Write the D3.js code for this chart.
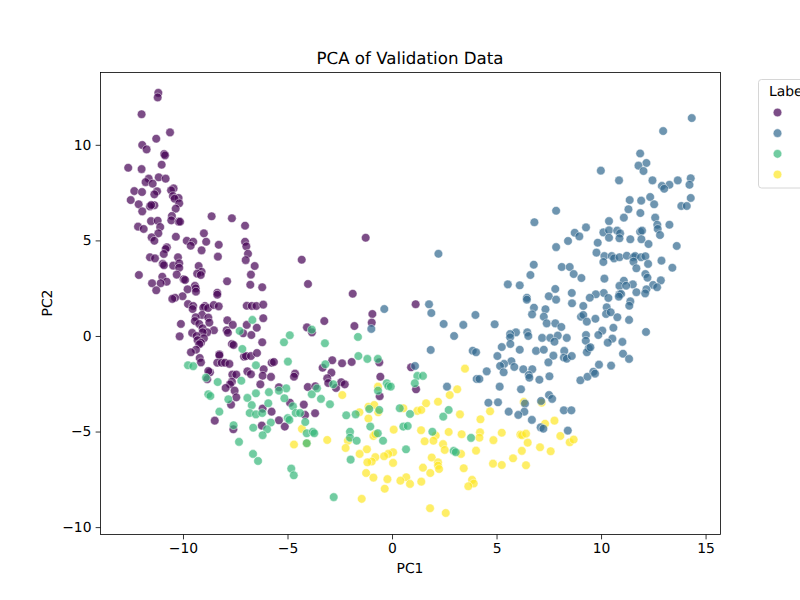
<!DOCTYPE html>
<html>
<head>
<meta charset="utf-8">
<script src="https://cdn.jsdelivr.net/npm/d3@7"></script>
<style>
    html, body { margin: 0; padding: 0; background: #fff; overflow: hidden; }
    text { font-family: "DejaVu Sans", sans-serif; fill: #000; text-rendering: geometricPrecision; }
</style>
</head>
<body>
<svg id="chart" width="800" height="600"></svg>
<script>
// values, [PC1, PC2]
const label0 = [
[-11.18,12.72],[-11.21,12.48],[-11.98,11.60],[-10.62,10.65],[-11.28,10.32],[-11.95,9.99],[-11.74,9.76],[-10.90,9.52],[-10.86,9.45],[-11.02,8.96],
[-12.62,8.80],[-11.98,8.73],[-11.64,8.23],[-11.79,8.05],[-11.45,7.97],[-11.16,8.30],[-10.83,8.23],[-10.45,7.72],[-10.57,7.62],[-12.33,7.58],
[-11.96,7.53],[-11.24,7.57],[-11.37,7.41],[-10.48,7.32],[-10.21,7.22],[-10.40,7.18],[-12.50,7.11],[-10.18,6.94],[-12.12,6.89],[-11.37,6.84],
[-11.58,6.78],[-11.52,6.85],[-10.35,6.66],[-11.95,6.52],[-8.63,6.26],[-7.66,6.16],[-7.03,5.77],[-10.53,6.28],[-10.56,6.05],[-10.21,5.98],
[-10.14,5.98],[-11.53,6.01],[-11.21,6.03],[-12.15,5.72],[-11.88,5.60],[-11.09,5.70],[-11.18,5.37],[-11.50,5.16],[-11.37,4.98],[-10.34,5.19],
[-9.00,5.37],[-9.82,4.98],[-9.51,4.93],[-9.63,4.72],[-8.89,4.93],[-8.29,4.77],[-7.03,4.93],[-6.97,4.69],[-10.77,4.64],[-10.83,4.55],
[-9.11,4.48],[-6.89,4.30],[-10.92,4.29],[-8.33,4.15],[-11.58,4.12],[-11.34,4.06],[-10.24,4.12],[-7.00,3.97],[-4.32,3.99],[-10.97,3.77],
[-10.91,3.70],[-10.47,3.68],[-10.18,3.80],[-10.18,3.57],[-6.57,3.66],[-9.25,3.66],[-9.11,3.36],[-9.32,3.26],[-9.15,3.19],[-10.30,3.21],
[-6.75,3.21],[-12.11,3.19],[-10.99,3.10],[-9.97,2.97],[-9.90,2.93],[-10.78,2.84],[-11.07,2.76],[-11.48,2.76],[-7.89,2.86],[-6.78,2.68],
[-6.21,2.55],[-9.43,2.62],[-9.78,2.44],[-9.39,2.49],[-9.38,2.32],[-11.28,2.39],[-8.36,2.26],[-8.36,2.16],[-10.02,2.08],[-10.38,2.00],
[-10.51,1.94],[-9.76,1.67],[-9.51,1.57],[-9.54,1.41],[-8.95,1.57],[-9.03,1.48],[-8.80,1.46],[-8.53,1.62],[-8.29,1.55],[-6.95,1.58],
[-6.71,1.57],[-6.49,1.57],[-6.16,1.64],[-9.09,1.10],[-9.39,0.98],[-8.79,0.96],[-9.43,0.78],[-7.88,0.82],[-6.16,0.93],[-7.62,0.58],
[-8.74,0.70],[-9.22,0.63],[-10.10,0.63],[-6.95,0.58],[-9.06,0.40],[-6.47,0.43],[-8.52,0.30],[-8.84,0.19],[-9.56,0.16],[-9.06,0.19],
[-7.91,0.30],[-7.85,0.17],[-7.12,0.14],[-6.73,0.05],[-10.16,-0.02],[-9.35,0.00],[-9.00,-0.12],[-9.30,-0.22],[-9.14,-0.35],[-9.22,-0.43],
[-7.66,-0.42],[-7.58,-0.47],[-6.21,-0.33],[-9.38,-0.72],[-9.62,-0.85],[-8.26,-0.96],[-9.20,-1.15],[-9.14,-1.38],[-8.26,-1.01],[-7.08,-1.08],
[-6.99,-1.05],[-6.75,-1.05],[-6.46,-0.89],[-8.36,-1.40],[-8.15,-1.40],[-7.99,-1.40],[-7.78,-1.46],[-5.76,-1.40],[-5.65,-1.36],[-6.14,-1.74],
[-6.92,-1.85],[-6.75,-2.00],[-6.19,-2.08],[-5.79,-2.14],[-8.71,-1.90],[-8.79,-1.83],[-8.84,-2.26],[-7.64,-2.02],[-7.45,-2.02],[-7.66,-2.39],
[-7.75,-2.53],[-7.96,-2.72],[-7.53,-2.86],[-7.45,-3.21],[-7.70,-3.59],[-6.30,-2.53],[-5.41,-2.68],[-4.64,-1.97],[-4.69,-2.13],[-2.86,-1.27],
[-3.32,-1.66],[-2.90,-1.92],[-3.10,-2.21],[-3.05,-2.46],[-4.03,-2.67],[-3.67,-2.63],[-2.68,-2.72],[-4.88,-3.49],[-4.22,-3.59],[-6.19,-3.80],
[-5.76,-3.96],[-3.68,-4.04],[-4.16,-4.13],[-5.41,-4.41],[-5.13,-4.74],[-6.23,-4.69],[-7.59,-4.88],[-8.48,-4.43],[-1.26,5.14],[-4.02,2.72],
[-1.88,2.21],[1.13,1.66],[-0.94,1.15],[-0.97,0.70],[-1.80,0.52],[-3.24,0.78],[-4.07,0.45],[-3.83,0.19],[-2.39,-1.43],[-1.93,-1.36],
[-0.61,-1.38],[0.91,-1.64],[-2.43,-2.42],[-2.26,-2.53],[-0.56,-2.13],[-0.59,-3.15],[1.15,-2.79]
];
const label1 = [
[2.22,4.30],[-0.37,1.41],[-0.99,0.37],[1.77,1.66],[1.88,1.20],[2.47,0.63],[3.41,0.58],[2.97,0.00],[1.85,-0.73],[1.10,-1.57],
[2.63,-2.65],[3.99,1.10],[4.91,0.61],[6.79,1.48],[7.34,1.40],[6.70,1.13],[7.26,1.01],[8.61,1.71],[7.40,0.66],[7.81,0.66],
[8.10,0.47],[9.04,1.01],[9.15,1.57],[9.15,1.10],[9.32,0.75],[5.93,0.19],[5.65,0.10],[5.65,-0.07],[6.47,0.19],[6.52,0.00],
[5.66,-0.42],[7.18,-0.10],[7.57,-0.10],[7.93,0.02],[7.77,-0.30],[8.36,-0.10],[9.28,0.05],[9.27,-0.25],[5.25,-0.58],[6.11,-0.72],
[6.89,-0.78],[7.26,-0.72],[8.24,-0.78],[9.41,-0.64],[9.32,-0.85],[3.86,-0.77],[4.02,-0.85],[5.04,-1.05],[7.72,-1.03],[8.22,-1.13],
[8.36,-1.19],[8.60,-1.05],[7.48,-1.38],[5.71,-1.32],[5.36,-1.46],[5.17,-1.57],[5.85,-1.62],[4.53,-1.85],[5.34,-1.90],[6.28,-1.74],
[6.71,-1.74],[6.54,-2.04],[6.57,-2.18],[7.05,-2.29],[7.53,-2.11],[4.05,-2.25],[4.18,-2.25],[9.01,-2.32],[9.35,-2.13],[5.15,-2.65],
[6.17,-2.79],[7.51,-3.09],[7.66,-3.29],[4.61,-3.49],[5.07,-3.47],[6.36,-3.54],[7.13,-3.40],[5.58,-3.96],[6.33,-3.96],[6.04,-4.13],
[8.22,-3.89],[8.58,-3.89],[6.69,-4.39],[7.11,-4.78],[7.24,-4.85],[8.41,-4.95],[7.85,6.55],[6.81,5.95],[9.28,5.68],[8.74,5.40],
[8.96,5.21],[8.42,4.97],[7.85,4.65],[10.11,5.42],[10.38,6.01],[10.38,5.53],[10.38,5.14],[9.84,4.88],[9.78,4.36],[10.16,4.18],
[10.11,3.87],[10.51,4.18],[6.78,3.73],[8.12,3.61],[8.50,3.61],[6.62,3.19],[8.69,3.24],[9.06,3.03],[10.16,3.00],[5.54,2.70],
[6.11,2.65],[7.81,2.46],[8.60,2.25],[10.13,2.25],[9.75,2.18],[9.46,2.00],[7.50,2.08],[7.85,1.90],[6.45,2.00],[6.45,1.90],
[10.35,1.99],[10.27,1.50],[14.34,11.40],[12.97,10.72],[11.87,9.55],[12.17,9.05],[11.79,8.91],[12.03,8.63],[9.99,8.65],[10.86,8.14],
[12.46,8.14],[14.29,8.25],[14.23,7.91],[13.67,8.14],[13.27,7.91],[12.91,7.85],[13.02,7.70],[14.29,7.22],[12.35,7.27],[11.37,7.11],
[11.92,7.08],[12.54,6.89],[13.84,6.80],[14.10,6.80],[11.31,6.63],[11.88,6.43],[11.09,6.19],[12.59,6.19],[12.69,5.82],[13.27,5.82],
[10.77,5.51],[10.91,5.37],[11.87,5.45],[11.96,5.51],[12.71,5.60],[12.82,5.28],[10.88,5.11],[11.40,5.06],[11.93,5.06],[12.27,4.81],
[13.62,4.71],[10.62,4.06],[10.88,4.12],[11.23,4.20],[11.55,4.12],[11.63,4.18],[11.91,4.12],[12.12,4.17],[11.55,3.89],[12.25,3.77],
[12.89,3.94],[13.41,3.57],[11.69,3.54],[12.12,3.24],[12.22,3.05],[11.09,2.89],[12.86,2.91],[11.52,2.70],[10.88,2.62],[11.20,2.63],
[12.49,2.67],[12.68,2.55],[12.17,2.44],[12.11,2.23],[11.69,2.29],[10.88,2.18],[10.96,2.20],[10.85,2.06],[11.40,1.81],[11.35,1.58],
[10.24,1.15],[10.46,1.24],[10.78,0.98],[9.73,0.90],[11.34,0.84],[10.59,0.43],[12.15,0.21],[10.06,0.28],[9.87,0.05],[10.54,-0.14],
[10.32,-0.35],[11.02,-0.31],[9.49,-0.59],[11.05,-0.93],[11.34,-1.20],[9.90,-1.50],[10.48,-1.55],[9.63,-1.87],[9.71,-1.97]
];
const label2 = [
[-6.68,0.84],[-7.29,0.26],[-4.89,0.04],[-5.17,-0.33],[-7.16,-0.68],[-9.76,-1.53],[-9.51,-1.58],[-8.34,-2.41],[-7.21,-2.34],[-6.51,-1.53],
[-4.98,-1.34],[-3.19,-1.48],[-8.90,-2.18],[-8.79,-3.05],[-8.69,-3.14],[-6.51,-3.00],[-6.92,-3.24],[-5.89,-2.94],[-5.06,-2.74],[-5.41,-2.86],
[-5.15,-3.26],[-3.84,-3.05],[-3.59,-2.74],[-3.40,-3.29],[-2.97,-3.57],[-2.81,-2.53],[-7.83,-3.31],[-6.71,-3.62],[-5.92,-3.52],[-4.74,-3.68],
[-8.26,-3.96],[-6.81,-4.03],[-6.51,-4.10],[-6.21,-4.03],[-5.80,-4.53],[-4.61,-4.03],[-4.40,-4.03],[-4.99,-4.30],[-4.91,-4.39],[-4.15,-4.50],
[-7.58,-4.67],[-6.64,-4.80],[-5.98,-4.88],[-6.19,-5.19],[-7.32,-5.54],[-4.08,-5.09],[-3.79,-5.01],[-3.72,-5.09],[-6.65,-6.17],[-6.41,-6.54],
[-4.82,-6.94],[-4.70,-7.29],[-4.08,-5.61],[-3.84,0.33],[-1.63,-0.05],[-3.21,-0.38],[-1.61,-1.05],[-1.18,-1.20],[-0.68,-1.20],[1.21,-2.09],
[1.48,-2.09],[1.09,-2.47],[-0.25,-2.47],[-0.18,-2.62],[-0.06,-2.65],[-0.67,-2.86],[-2.19,-4.15],[-1.74,-4.10],[-1.09,-3.82],[-0.61,-3.87],
[0.37,-3.78],[0.86,-4.08],[2.71,-3.87],[2.45,-4.22],[-1.04,-4.74],[-0.68,-5.09],[0.54,-4.74],[0.75,-4.71],[1.93,-5.01],[3.78,-5.33],
[-2.01,-5.01],[-2.01,-5.32],[-1.69,-5.48],[-0.43,-5.48],[0.67,-5.93],[2.95,-6.01],[3.05,-6.08],[-1.98,-6.47],[-2.79,-8.43]
];
const label3 = [
[-4.31,-4.86],[-4.69,-5.68],[-4.08,-5.61],[-3.10,-5.44],[-2.38,-3.09],[-0.67,-2.65],[3.49,-1.71],[3.12,-2.79],[2.76,-3.09],[-1.56,-3.99],
[-1.13,-3.70],[-0.85,-3.61],[-0.66,-3.99],[-1.13,-4.32],[0.54,-3.78],[1.63,-3.52],[2.20,-3.44],[1.21,-3.92],[1.40,-3.87],[3.25,-4.10],
[4.23,-4.36],[4.69,-3.94],[0.08,-4.90],[1.39,-4.93],[2.71,-5.02],[3.33,-5.14],[4.21,-5.04],[4.18,-5.32],[2.09,-5.21],[1.98,-5.48],
[1.56,-5.51],[-0.89,-5.23],[-0.80,-5.14],[-2.11,-5.48],[-2.22,-5.86],[-1.20,-5.93],[-1.55,-6.17],[2.44,-5.66],[2.52,-5.96],[3.30,-6.17],
[4.02,-6.00],[0.05,-6.08],[-0.18,-6.17],[-0.38,-6.29],[-0.80,-6.34],[1.90,-6.36],[-0.97,-6.57],[-1.18,-6.61],[0.05,-6.64],[2.20,-6.61],
[2.20,-6.78],[2.25,-6.96],[1.48,-6.89],[1.83,-7.17],[3.43,-6.92],[-1.24,-7.17],[-0.89,-7.41],[-0.22,-7.49],[0.68,-7.39],[0.40,-7.57],
[0.86,-7.74],[1.40,-7.62],[3.83,-7.53],[3.91,-7.72],[3.65,-7.86],[-0.35,-7.99],[-1.45,-8.52],[1.82,-9.01],[2.57,-9.26],[6.30,-3.45],
[7.16,-3.49],[7.32,-4.59],[7.77,-4.43],[5.25,-5.06],[4.85,-5.45],[6.14,-5.16],[6.22,-5.19],[6.41,-5.11],[6.49,-5.58],[8.05,-5.23],
[8.50,-5.56],[8.69,-5.42],[7.08,-5.82],[6.21,-6.01],[7.59,-6.03],[5.79,-6.40],[4.83,-6.68],[5.25,-6.75],[6.41,-6.76]
];
// overlaps in the reference look mixed, this order gets closest
const drawOrder = [[label0, 0], [label3, 3], [label2, 2], [label1, 1]];

const labels = [0, 1, 2, 3];
const labelColors = ['#440154', '#31688e', '#35b779', '#fde725'];
const xTicks = [-10, -5, 0, 5, 10, 15];
const yTicks = [-10, -5, 0, 5, 10];
const xDomain = [-13.97, 15.69];
const yDomain = [-10.36, 13.81];

const left = 100, right = 720, top_ = 72, bottom = 534;
const r = 4.3;
const fontSmall = '13.89px', fontTitle = '16.67px';

const svg = d3.select('#chart');
const x = d3.scaleLinear().domain(xDomain).range([left, right]);
const y = d3.scaleLinear().domain(yDomain).range([bottom, top_]);
const color = d3.scaleOrdinal().domain(labels).range(labelColors);

function styleMarker(sel, label) {
    sel.attr('fill', color(label))
        .attr('fill-opacity', 0.7)
        .attr('stroke', '#fff')
        .attr('stroke-opacity', 0.7)
        .attr('stroke-width', 0.67);
}

drawOrder.forEach(([points, label]) => {
    svg.append('g')
        .selectAll('circle')
        .data(points)
        .join('circle')
        .attr('cx', d => x(d[0]))
        .attr('cy', d => y(d[1]))
        .attr('r', r)
        .call(styleMarker, label);
});

// frame
svg.append('rect')
    .attr('x', left + 0.5)
    .attr('y', top_ + 0.5)
    .attr('width', right - left)
    .attr('height', bottom - top_)
    .attr('fill', 'none')
    .attr('stroke', '#000')
    .attr('stroke-width', 0.8);

const xAxis = d3.axisBottom(x).tickValues(xTicks).tickSize(4.86).tickPadding(4.2);
const yAxis = d3.axisLeft(y).tickValues(yTicks).tickSize(4.86).tickPadding(4.2);
const gx = svg.append('g').attr('transform', `translate(0,${bottom + 0.5})`).call(xAxis);
const gy = svg.append('g').attr('transform', `translate(${left + 0.5},0)`).call(yAxis);
[gx, gy].forEach(g => {
    g.select('.domain').remove();
    g.selectAll('line').attr('stroke', '#000').attr('stroke-width', 0.8);
    g.selectAll('text').style('font-size', fontSmall).style('font-family', '"DejaVu Sans"');
});

svg.append('text')
    .attr('x', (left + right) / 2)
    .attr('y', 64)
    .attr('text-anchor', 'middle')
    .style('font-size', fontTitle)
    .text('PCA of Validation Data');
svg.append('text')
    .attr('x', (left + right) / 2)
    .attr('y', 573)
    .attr('text-anchor', 'middle')
    .style('font-size', fontSmall)
    .text('PC1');
svg.append('text')
    .attr('transform', `translate(52,${(top_ + bottom) / 2}) rotate(-90)`)
    .attr('text-anchor', 'middle')
    .style('font-size', fontSmall)
    .text('PC2');

// legend runs off the right edge of the figure, the reference cuts it the same way
const legend = svg.append('g');
legend.append('rect')
    .attr('x', 758.5)
    .attr('y', 79.5)
    .attr('width', 80)
    .attr('height', 108.5)
    .attr('rx', 3)
    .attr('fill', '#fff')
    .attr('fill-opacity', 0.8)
    .attr('stroke', '#ccc')
    .attr('stroke-width', 0.8);
legend.append('text')
    .attr('x', 769)
    .attr('y', 96)
    .style('font-size', fontSmall)
    .text('Label');
const legendY = d3.scalePoint().domain(labels).range([112.5, 174.5]);
legend.selectAll('circle')
    .data(labels)
    .join('circle')
    .attr('cx', 777.5)
    .attr('cy', d => legendY(d))
    .attr('r', r)
    .each(function (d) { d3.select(this).call(styleMarker, d); });
</script>
</body>
</html>
